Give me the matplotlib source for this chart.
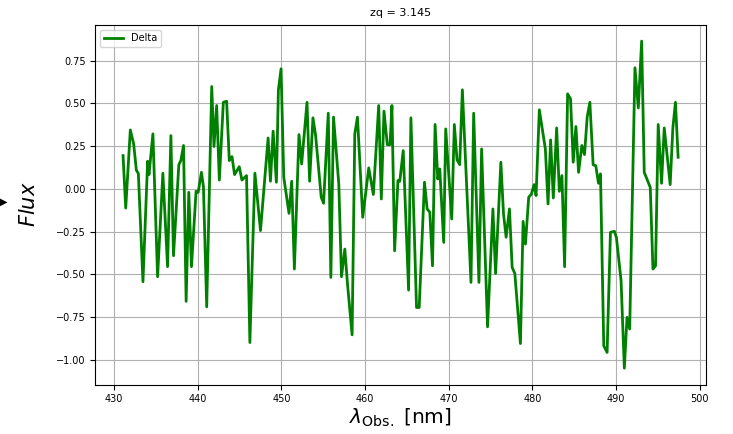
import matplotlib
matplotlib.use("Agg")
import matplotlib.pyplot as plt

wavelength = [
    431.07, 431.39, 431.94, 432.34, 432.66, 432.90, 433.45, 434.01, 434.17, 434.64,
    435.20, 435.83, 436.39, 436.79, 437.10, 437.74, 437.98, 438.30, 438.61, 438.93,
    439.25, 439.80, 440.05, 440.44, 440.68, 441.07, 441.67, 441.94, 442.26, 442.58,
    443.06, 443.45, 443.77, 444.09, 444.40, 444.96, 445.28, 445.83, 446.23, 446.83,
    447.50, 448.41, 448.69, 449.01, 449.40, 449.64, 449.96, 450.28, 450.91, 451.23,
    451.55, 452.10, 452.42, 453.06, 453.37, 453.77, 454.09, 454.76, 455.04, 455.60,
    455.91, 456.23, 456.86, 457.18, 457.58, 457.90, 458.45, 458.77, 459.09, 459.72,
    460.44, 460.99, 461.63, 461.94, 462.26, 462.66, 462.98, 463.21, 463.53, 463.93,
    464.15, 464.56, 465.20, 465.48, 466.15, 466.47, 467.10, 467.42, 467.74, 468.06,
    468.37, 468.69, 468.93, 469.40, 469.64, 470.36, 470.67, 470.99, 471.31, 471.63,
    472.66, 472.98, 473.61, 473.93, 474.64, 475.28, 475.60, 476.23, 476.55, 476.86,
    477.26, 477.58, 477.90, 478.57, 478.89, 479.17, 479.56, 479.88, 480.20, 480.44,
    480.83, 481.55, 481.87, 482.18, 482.50, 482.90, 483.22, 483.53, 483.85, 484.21,
    484.56, 484.88, 485.20, 485.52, 485.91, 486.23, 486.55, 486.87, 487.26, 487.58,
    487.90, 488.14, 488.53, 488.93, 489.33, 489.80, 490.04, 490.60, 490.99, 491.31,
    491.63, 492.26, 492.66, 493.06, 493.37, 493.77, 494.09, 494.41, 494.72, 495.04,
    495.44, 495.76, 496.47, 496.79, 497.10, 497.42,
]
flux = [
    0.195, -0.112, 0.345, 0.263, 0.110, 0.090, -0.543, 0.162, 0.084, 0.322,
    -0.514, 0.092, -0.455, 0.312, -0.391, 0.142, 0.166, 0.254, -0.658, -0.020,
    -0.455, -0.014, -0.020, 0.097, 0.013, -0.690, 0.599, 0.248, 0.488, 0.052,
    0.507, 0.513, 0.166, 0.189, 0.084, 0.130, 0.052, 0.078, -0.899, 0.092,
    -0.244, 0.298, 0.045, 0.338, 0.039, 0.580, 0.703, 0.068, -0.143, 0.045,
    -0.469, 0.318, 0.146, 0.507, 0.045, 0.416, 0.312, -0.049, -0.084, 0.443,
    -0.518, 0.420, 0.029, -0.514, -0.352, -0.557, -0.854, 0.322, 0.420, -0.166,
    0.123, -0.033, 0.488, -0.059, 0.455, 0.259, 0.259, 0.488, -0.362, 0.049,
    0.045, 0.224, -0.592, 0.416, -0.694, -0.694, 0.039, -0.117, -0.137, -0.450,
    0.377, 0.058, 0.117, -0.313, 0.351, -0.176, 0.377, 0.170, 0.142, 0.580,
    -0.547, 0.443, -0.547, 0.234, -0.807, -0.117, -0.495, 0.156, -0.147, -0.283,
    -0.117, -0.459, -0.495, -0.905, -0.190, -0.323, -0.049, -0.030, 0.025, -0.039,
    0.463, 0.234, -0.088, 0.287, -0.053, 0.357, -0.014, 0.078, -0.455, 0.556,
    0.527, 0.156, 0.365, 0.097, 0.254, 0.201, 0.420, 0.507, 0.142, 0.135,
    0.033, 0.088, -0.918, -0.957, -0.254, -0.248, -0.283, -0.537, -1.049, -0.752,
    -0.820, 0.709, 0.474, 0.865, 0.097, 0.049, 0.009, -0.469, -0.450, 0.377,
    0.033, 0.357, 0.025, 0.357, 0.507, 0.185,
]
z_q = 3.145

fig = plt.figure(figsize=(7.33, 4.34), dpi=100)
ax = fig.add_axes([0.13, 0.114, 0.833, 0.829])

ax.plot(wavelength, flux, color="green", linewidth=2, label="Delta")
ax.set_title(f"zq = {z_q}", fontsize=8)
ax.set_xlabel(r"$\lambda_{\rm Obs.}$ [nm]", fontsize=14.5, labelpad=2)
ax.set_ylabel(r"$Flux$", fontsize=15, labelpad=12)
ax.tick_params(labelsize=7)
ax.grid(True)
ax.legend(loc="upper left", fontsize=7)

# small marker left of the axes, as in the reference screenshot
fig.text(0.0, 0.535, "\u25B6", fontsize=7, va="center", ha="left")

fig.savefig("out.png", dpi=100)
